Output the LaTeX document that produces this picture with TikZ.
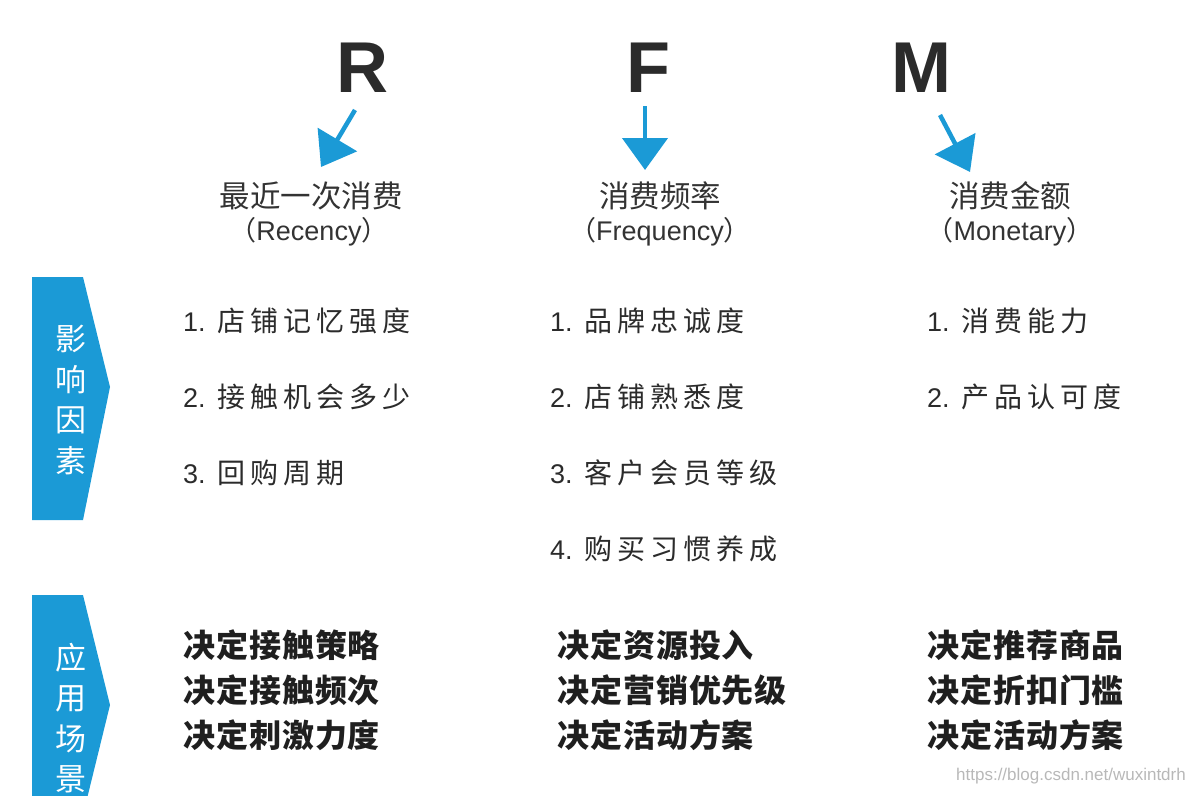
\documentclass[tikz,border=0pt]{standalone}
\usepackage{fontspec}
\setmainfont{Liberation Sans}
\newfontfamily\cjk{Noto Sans CJK SC}
\newfontfamily\cjkls{Noto Sans CJK SC}[LetterSpace=18]
\newfontfamily\cjkbs{Noto Sans CJK SC}[LetterSpace=3]
\usetikzlibrary{arrows.meta}
\definecolor{rfmblue}{HTML}{1B9AD6}
\definecolor{txt}{HTML}{2B2B2B}
\definecolor{titletxt}{HTML}{333333}
\tikzset{
  letter/.style={font=\fontsize{72}{72}\selectfont\bfseries, text=txt, inner sep=0pt},
  titlecn/.style={font=\cjk\fontsize{30.5}{32}\selectfont, text=titletxt, inner sep=0pt},
  titleen/.style={font=\fontsize{27}{30}\selectfont, text=titletxt, inner sep=0pt},
  item/.style={anchor=west, text=txt, inner sep=0pt},
  apply/.style={anchor=west, text=black!88, inner sep=0pt, align=left,
     font=\cjkbs\bfseries\fontsize{32}{45}\selectfont},
  banner/.style={fill=rfmblue, draw=none},
  bannertext/.style={text=white, align=center, inner sep=0pt,
     font=\cjk\fontsize{31}{40.5}\selectfont},
  arr/.style={draw=rfmblue, line width=4.5pt, -{Triangle[length=32pt,width=45pt]}},
}
\newcommand{\itm}[2]{{\fontsize{27}{30}\selectfont #1.\hspace{12pt}}{\cjkls\fontsize{28}{30}\selectfont #2}}
\begin{document}
\begin{tikzpicture}[x=1pt,y=-1pt]
\useasboundingbox (0,0) rectangle (1193,795);
% letters
\node[letter] (R) at (362,68) {R};
\node[letter] (F) at (648,68) {F};
\node[letter] (M) at (921,68) {M};
% arrows
\coordinate (rs) at (355,110); \coordinate (rt) at (321,167);
\coordinate (fs) at (645,106); \coordinate (ft) at (645,170);
\coordinate (ms) at (940,115); \coordinate (mt) at (970,172);
\draw[arr] (rs) -- (rt);
\draw[arr] (fs) -- (ft);
\draw[arr] (ms) -- (mt);
% titles
\node[titlecn] (t1) at (311,196) {最近一次消费};
\node[titleen] (e1) at (309,232) {{\cjk （}Recency{\cjk ）}};
\node[titlecn] (t2) at (660,196) {消费频率};
\node[titleen] (e2) at (660,232) {{\cjk （}Frequency{\cjk ）}};
\node[titlecn] (t3) at (1010,196) {消费金额};
\node[titleen] (e3) at (1010,232) {{\cjk （}Monetary{\cjk ）}};
% banners
\path[banner] (32,277) -- (83,277) -- (110,387) -- (83,520) -- (32,520) -- cycle;
\node[bannertext] (b1) at (71,400) {影\\响\\因\\素};
\path[banner] (32,595) -- (83,595) -- (110,705) -- (83,815) -- (32,815) -- cycle;
\node[bannertext] (b2) at (71,718) {应\\用\\场\\景};
% factors
\node[item] (r1) at (183,321) {\itm{1}{店铺记忆强度}};
\node[item] (r2) at (183,397) {\itm{2}{接触机会多少}};
\node[item] (r3) at (183,473) {\itm{3}{回购周期}};
\node[item] (f1) at (550,321) {\itm{1}{品牌忠诚度}};
\node[item] (f2) at (550,397) {\itm{2}{店铺熟悉度}};
\node[item] (f3) at (550,473) {\itm{3}{客户会员等级}};
\node[item] (f4) at (550,549) {\itm{4}{购买习惯养成}};
\node[item] (m1) at (927,321) {\itm{1}{消费能力}};
\node[item] (m2) at (927,397) {\itm{2}{产品认可度}};
% applications
\node[apply] (ra) at (183,690) {决定接触策略\\决定接触频次\\决定刺激力度};
\node[apply] (fa) at (557,690) {决定资源投入\\决定营销优先级\\决定活动方案};
\node[apply] (ma) at (927,690) {决定推荐商品\\决定折扣门槛\\决定活动方案};
% watermark
\node[anchor=east, text=black!28, inner sep=0pt, font=\fontsize{17}{20}\selectfont] (wm) at (1186,776) {https://blog.csdn.net/wuxintdrh};
\end{tikzpicture}
\end{document}
